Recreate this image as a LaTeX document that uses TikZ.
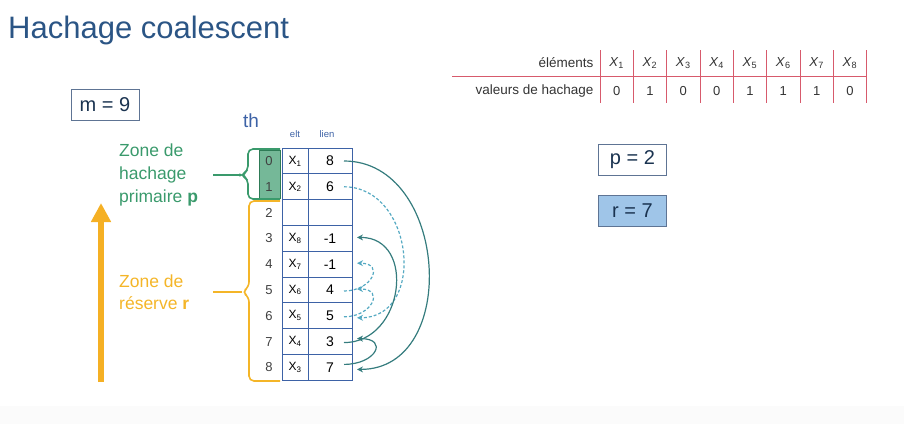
\documentclass[tikz,border=0pt]{standalone}
\usepackage{fontspec}
\setmainfont{Liberation Sans}
\usetikzlibrary{arrows.meta}

\definecolor{titleblue}{HTML}{2B5585}
\definecolor{cellblue}{HTML}{3D62A6}
\definecolor{zonegreen}{HTML}{3A9A6C}
\definecolor{zoneyellow}{HTML}{F4B528}
\definecolor{linkteal}{HTML}{357C7E}
\definecolor{linklight}{HTML}{55A9C2}
\definecolor{tabred}{HTML}{D75A6C}
\definecolor{boxgray}{HTML}{5E7494}
\definecolor{rfill}{HTML}{9FC5E8}

\begin{document}
\begin{tikzpicture}[x=1pt, y=-1pt,
    cell/.style={draw=cellblue, line width=0.9pt, minimum height=25.8pt, inner sep=0pt, outer sep=0pt, font=\fontsize{12}{14}\selectfont},
    param/.style={draw=boxgray, line width=0.9pt, minimum width=68pt, minimum height=31pt, inner sep=0pt, text=titleblue!60!black, font=\fontsize{20}{24}\selectfont},
    link/.style={linkteal, line width=1.2pt, -{Stealth[length=6pt,width=6pt]}},
    linkd/.style={linklight, line width=1.2pt, dash pattern=on 3pt off 2pt, -{Stealth[length=6pt,width=6pt]}}]
    \useasboundingbox (0,0) rectangle (904,424);
    \fill[gray!3] (0,406) rectangle (904,424);

    % titre
    \node[anchor=base west, text=titleblue, font=\fontsize{31}{36}\selectfont, inner sep=0pt] (title) at (8,38) {Hachage coalescent};

    % parametres
    \node[param] (m) at (105,104.5) {m = 9};
    \node[param] (p) at (632.5,160) {p = 2};
    \node[param, fill=rfill] (r) at (632.5,211) {r = 7};

    % zone primaire (fond vert des indices 0 et 1)
    \filldraw[fill=zonegreen!70, draw=zonegreen!80!black, line width=0.8pt] (259,150) rectangle (280,198);

    % table th
    \node[text=cellblue, font=\fontsize{19}{22}\selectfont] (th) at (251,121) {th};
    \node[text=cellblue, font=\fontsize{9.5}{11}\selectfont] (hElt) at (295,134) {elt};
    \node[text=cellblue, font=\fontsize{9.5}{11}\selectfont] (hLien) at (327,134) {lien};
    \foreach \e/\l [count=\i from 0] in {X\textsubscript{1}/8, X\textsubscript{2}/6, /, X\textsubscript{8}/-1, X\textsubscript{7}/-1, X\textsubscript{6}/4, X\textsubscript{5}/5, X\textsubscript{4}/3, X\textsubscript{3}/7} {
        \node[font=\fontsize{13}{15}\selectfont, text=black!75] (n\i) at (269,161+25.8*\i) {\i};
        \node[cell, minimum width=26pt] (e\i) at (295,161+25.8*\i) {\e};
        \node[cell, minimum width=44pt, font=\fontsize{14}{16}\selectfont] (l\i) at (330,161+25.8*\i) {\l};
    }

    % chainages
    \draw[link] ([xshift=-8pt]l0.east) .. controls +(104,0) and +(104,0) .. ([xshift=5pt,yshift=-2pt]l8.east);
    \draw[linkd] ([xshift=-8pt]l1.east) .. controls +(70,0) and +(70,0) .. ([xshift=5pt,yshift=-2pt]l6.east);
    \draw[link] ([xshift=-8pt,yshift=-1pt]l7.east) .. controls +(60,0) and +(60,0) .. ([xshift=5pt,yshift=1pt]l3.east);
    \draw[linkd] ([xshift=-8pt,yshift=-1pt]l5.east) .. controls +(28,0) and +(28,0) .. ([xshift=5pt,yshift=1pt]l4.east);
    \draw[linkd] ([xshift=-8pt,yshift=-1pt]l6.east) .. controls +(28,0) and +(28,0) .. ([xshift=5pt,yshift=1pt]l5.east);
    \draw[link] ([xshift=-8pt,yshift=3pt]l8.east) .. controls +(32,0) and +(32,0) .. ([xshift=5pt,yshift=3pt]l7.east);

    % accolades
    \coordinate (gTip) at (241,175);
    \coordinate (yTip) at (242,292);
    \draw[zonegreen, line width=1.6pt, rounded corners=5pt] (280,149) -- (248,149) -- (248,171) -- (gTip) -- (248,179) -- (248,199) -- (280,199);
    \draw[zonegreen, line width=1.6pt] (gTip) -- (213,175);
    \draw[zoneyellow, line width=1.6pt, rounded corners=5pt] (280,201) -- (249,201) -- (249,287) -- (yTip) -- (249,297) -- (249,381) -- (280,381);
    \draw[zoneyellow, line width=1.6pt] (yTip) -- (213,292);

    % libelles des zones
    \node[anchor=west, align=left, text=zonegreen, font=\fontsize{17.5}{23}\selectfont, inner sep=0pt] (zp) at (119,175) {Zone de\\hachage\\primaire \textbf{p}};
    \node[anchor=west, align=left, text=zoneyellow, font=\fontsize{17.5}{22}\selectfont, inner sep=0pt] (zr) at (119,292) {Zone de\\réserve \textbf{r}};

    % fleche de sens de remplissage
    \coordinate (aBot) at (101,382);
    \coordinate (aTop) at (101,203);
    \draw[zoneyellow!90!orange, line width=6pt, -{Triangle[length=19pt,width=19pt]}] (aBot) -- (aTop);

    % table des valeurs de hachage
    \draw[tabred, line width=1pt] (452,76) -- (867,76);
    \foreach \x in {600,633.3,666.7,700,733.3,766.7,800,833.3,866.7}
        \draw[tabred, line width=1pt] (\x,50) -- (\x,103);
    \node[anchor=east, font=\fontsize{13.5}{16}\selectfont, text=black!80] (lElem) at (597,63) {éléments};
    \node[anchor=east, font=\fontsize{13.5}{16}\selectfont, text=black!80] (lHash) at (597,91) {valeurs de hachage};
    \foreach \h [count=\k] in {0,1,0,0,1,1,1,0} {
        \node[font=\fontsize{13}{15}\selectfont, text=black!80] (x\k) at (583.3+33.33*\k,63) {\textit{X}\textsubscript{\k}};
        \node[font=\fontsize{13}{15}\selectfont, text=black!80] (v\k) at (583.3+33.33*\k,91) {\h};
    }
\end{tikzpicture}
\end{document}
